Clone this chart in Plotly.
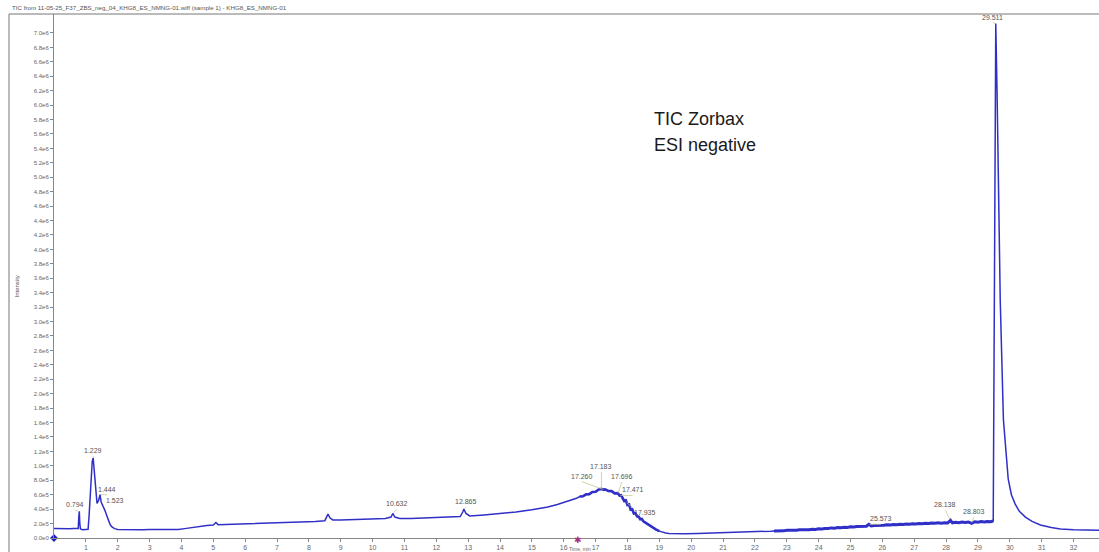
import plotly.graph_objects as go

# Total ion chromatogram, split into retention-time segments (min, counts)
early_time = [
    0.00, 0.10, 0.20, 0.30, 0.40, 0.50, 0.60, 0.70, 0.76, 0.78, 0.794, 0.81, 0.83, 0.90, 1.00,
    1.07, 1.10, 1.15, 1.20, 1.229, 1.26, 1.30, 1.35, 1.40, 1.444, 1.48, 1.523, 1.56, 1.60, 1.65,
    1.70, 1.75, 1.80, 1.90, 2.00, 2.20, 2.50, 2.80, 3.00, 3.30, 3.60, 3.90, 4.10, 4.30, 4.50,
    4.80, 5.00, 5.08, 5.15, 5.40, 5.70, 6.00, 6.30, 6.60, 7.00, 7.40, 7.80, 8.20, 8.50, 8.56,
    8.60, 8.66, 8.75, 9.00, 9.50, 10.00, 10.40, 10.58, 10.632, 10.70, 10.85, 11.20, 11.60, 12.00,
    12.40, 12.75, 12.83, 12.865, 12.93, 13.05, 13.50, 14.00, 14.50, 15.00, 15.50, 15.80, 16.00,
    16.20, 16.40,
]
early_int = [
    1.30e5, 1.28e5, 1.30e5, 1.27e5, 1.29e5, 1.28e5, 1.30e5, 1.29e5, 1.32e5, 3.0e5, 3.7e5, 2.0e5,
    1.25e5, 1.15e5, 1.15e5, 1.20e5, 3.0e5, 7.5e5, 10.6e5, 11.1e5, 9.5e5, 6.5e5, 4.8e5, 5.2e5,
    6.0e5, 5.0e5, 4.6e5, 4.4e5, 3.8e5, 3.2e5, 2.5e5, 2.0e5, 1.6e5, 1.30e5, 1.18e5, 1.15e5,
    1.17e5, 1.16e5, 1.18e5, 1.17e5, 1.20e5, 1.19e5, 1.30e5, 1.45e5, 1.57e5, 1.72e5, 1.80e5,
    2.15e5, 1.85e5, 1.88e5, 1.92e5, 1.96e5, 2.00e5, 2.05e5, 2.10e5, 2.15e5, 2.22e5, 2.30e5,
    2.40e5, 2.90e5, 3.30e5, 2.80e5, 2.50e5, 2.48e5, 2.55e5, 2.62e5, 2.70e5, 2.90e5, 3.40e5,
    2.90e5, 2.72e5, 2.70e5, 2.78e5, 2.85e5, 2.90e5, 2.98e5, 3.60e5, 4.00e5, 3.40e5, 3.05e5,
    3.20e5, 3.38e5, 3.60e5, 3.90e5, 4.30e5, 4.65e5, 4.90e5, 5.20e5, 5.50e5,
]

hump_time = [
    16.50, 16.60, 16.70, 16.80, 16.90, 17.00, 17.10, 17.183, 17.26, 17.30, 17.40, 17.50, 17.60,
    17.696, 17.75, 17.80, 17.90, 17.95, 18.00, 18.05, 18.10, 18.15, 18.20, 18.25, 18.30, 18.35,
    18.40, 18.45, 18.50, 18.60, 18.70, 18.80, 18.90, 19.00,
]
hump_int = [
    5.75e5, 5.78e5, 6.05e5, 6.08e5, 6.38e5, 6.40e5, 6.72e5, 6.80e5, 6.68e5, 6.74e5, 6.52e5,
    6.50e5, 6.18e5, 6.22e5, 5.88e5, 5.92e5, 5.12e5, 5.20e5, 4.58e5, 4.66e5, 3.92e5, 3.98e5,
    3.40e5, 3.44e5, 3.00e5, 2.96e5, 2.60e5, 2.64e5, 2.30e5, 2.00e5, 1.70e5, 1.40e5, 1.15e5,
    0.95e5,
]

valley_time = [19.10, 19.20, 19.30, 19.50, 19.80, 20.20, 20.60, 21.00, 21.50, 22.00, 22.50]
valley_int = [0.80e5, 0.68e5, 0.62e5, 0.58e5, 0.60e5, 0.62e5, 0.66e5, 0.70e5, 0.76e5, 0.84e5,
              0.95e5]

late_time = [
    22.6, 22.7, 22.8, 22.9, 23.0, 23.1, 23.2, 23.3, 23.4, 23.5, 23.6, 23.7, 23.8, 23.9, 24.0,
    24.1, 24.2, 24.3, 24.4, 24.5, 24.6, 24.7, 24.8, 24.9, 25.0, 25.1, 25.2, 25.3, 25.4, 25.5,
    25.573, 25.65, 25.75, 25.85, 25.95, 26.05, 26.15, 26.25, 26.35, 26.45, 26.55, 26.65, 26.75,
    26.85, 26.95, 27.05, 27.15, 27.25, 27.35, 27.45, 27.55, 27.65, 27.75, 27.85, 27.95, 28.05,
    28.138, 28.2, 28.3, 28.4, 28.5, 28.6, 28.7, 28.803, 28.9, 29.0, 29.1, 29.2, 29.3, 29.4, 29.48,
]
late_int = [
    0.98e5, 0.95e5, 1.02e5, 0.99e5, 1.06e5, 1.03e5, 1.08e5, 1.07e5, 1.13e5, 1.10e5, 1.17e5,
    1.14e5, 1.22e5, 1.19e5, 1.28e5, 1.25e5, 1.33e5, 1.31e5, 1.40e5, 1.36e5, 1.45e5, 1.42e5,
    1.50e5, 1.47e5, 1.56e5, 1.52e5, 1.60e5, 1.58e5, 1.66e5, 1.63e5, 1.90e5, 1.68e5, 1.74e5,
    1.72e5, 1.80e5, 1.76e5, 1.84e5, 1.80e5, 1.88e5, 1.84e5, 1.92e5, 1.88e5, 1.95e5, 1.91e5,
    1.98e5, 1.94e5, 2.01e5, 1.97e5, 2.04e5, 2.00e5, 2.07e5, 2.03e5, 2.10e5, 2.05e5, 2.12e5,
    2.08e5, 2.45e5, 2.10e5, 2.18e5, 2.12e5, 2.20e5, 2.15e5, 2.22e5, 2.02e5, 2.25e5, 2.18e5,
    2.27e5, 2.22e5, 2.30e5, 2.25e5, 2.35e5,
]

main_peak_time = [
    29.52, 29.56, 29.60, 29.65, 29.70, 29.80, 29.90, 29.95, 30.05, 30.17, 30.30, 30.49, 30.70,
    30.96, 31.30, 31.59, 32.00, 32.40, 32.80,
]
main_peak_int = [
    40.0e5, 71.3e5, 62.0e5, 45.0e5, 33.0e5, 16.4e5, 10.0e5, 8.2e5, 6.0e5, 4.7e5, 3.7e5, 2.9e5,
    2.3e5, 1.8e5, 1.45e5, 1.25e5, 1.15e5, 1.10e5, 1.08e5,
]

time_min = early_time + hump_time + valley_time + late_time + main_peak_time
intensity = early_int + hump_int + valley_int + late_int + main_peak_int

# Labelled peaks: label text, anchor time, anchor intensity, label offset (px)
peak_labels = ["0.794", "1.229", "1.444", "1.523", "10.632", "12.865", "17.183", "17.260",
               "17.696", "17.471", "17.935", "25.573", "28.138", "28.803", "29.511"]
peak_times = [0.794, 1.229, 1.444, 1.523, 10.632, 12.865, 17.183, 17.26,
              17.696, 17.75, 17.95, 25.573, 28.138, 28.803, 29.56]
peak_heights = [3.7e5, 11.1e5, 6.0e5, 4.6e5, 3.4e5, 4.0e5, 6.8e5, 6.7e5,
                6.1e5, 5.9e5, 5.0e5, 1.90e5, 2.45e5, 2.02e5, 71.3e5]
label_dx = [-4, 0, 7, 12, 4, 2, 0, -22, 4, 13, 19, 12, -5, 2, -3]
label_dy = [-1, -2, 0, 1, -4, -2, -17, -8, -12, 0, 16, 0, -10, -6, -1]

# Intensity axis ticks every 2.0e5
y_ticks = [i * 2.0e5 for i in range(36)]


def tick_text(v):
    if v == 0:
        return "0.0e0"
    if v < 1e6:
        return f"{v / 1e5:.1f}e5"
    return f"{v / 1e6:.1f}e6"


y_tick_labels = [tick_text(v) for v in y_ticks]
x_ticks = list(range(1, 33))

header = "TIC from 11-05-25_F37_ZBS_neg_04_KHG8_ES_NMNG-01.wiff (sample 1) - KHG8_ES_NMNG-01"
cursor_time = 16.45

W, H = 1099, 552
ML, MT, MB = 54, 14, 14
plot_w = W - ML
plot_h = H - MT - MB
y_max = 7.263e6
line_blue = "#3030c8"

fig = go.Figure()
fig.add_trace(go.Scatter(
    x=time_min, y=intensity, mode="lines",
    line=dict(color=line_blue, width=1.5),
    hoverinfo="x+y", showlegend=False,
))
# the noisier stretches of the trace are drawn heavier
fig.add_trace(go.Scatter(
    x=hump_time, y=hump_int, mode="lines",
    line=dict(color=line_blue, width=2.6),
    hoverinfo="skip", showlegend=False,
))
fig.add_trace(go.Scatter(
    x=late_time, y=late_int, mode="lines",
    line=dict(color=line_blue, width=3.0),
    hoverinfo="skip", showlegend=False,
))

# origin marker
fig.add_trace(go.Scatter(
    x=[0], y=[0], mode="markers",
    marker=dict(symbol="diamond", size=6, color="#2020c0"),
    cliponaxis=False, showlegend=False, hoverinfo="skip",
))

for txt, t, h, dx, dy in zip(peak_labels, peak_times, peak_heights, label_dx, label_dy):
    fig.add_annotation(
        x=t, y=h, xref="x", yref="y", text=txt,
        showarrow=True, arrowhead=0, arrowwidth=0.8, arrowcolor="#c8c890",
        ax=dx, ay=dy, standoff=1,
        font=dict(family="Liberation Sans", size=7, color="#555555"),
        yanchor="bottom",
    )

# cursor mark on the time axis
fig.add_annotation(
    x=cursor_time, y=0, xref="x", yref="y", text="✱", showarrow=False,
    yshift=-2, font=dict(family="DejaVu Sans", size=9, color="#a8307c"),
)

fig.add_annotation(
    x=(652 - ML) / plot_w, y=0.80, xref="paper", yref="paper",
    text="TIC Zorbax", showarrow=False, xanchor="left", yanchor="middle",
    font=dict(family="Liberation Sans", size=18, color="#1a1a1a"),
)
fig.add_annotation(
    x=(652 - ML) / plot_w, y=0.75, xref="paper", yref="paper",
    text="ESI negative", showarrow=False, xanchor="left", yanchor="middle",
    font=dict(family="Liberation Sans", size=18, color="#1a1a1a"),
)
fig.add_annotation(
    x=(10 - ML) / plot_w, y=1 + 7 / plot_h, xref="paper", yref="paper",
    text=header, showarrow=False, xanchor="left", yanchor="middle",
    font=dict(family="Liberation Sans", size=6.2, color="#555555"),
)
fig.add_annotation(
    x=(12 - ML) / plot_w, y=0.48, xref="paper", yref="paper",
    text="Intensity", textangle=-90, showarrow=False,
    font=dict(family="Liberation Sans", size=6, color="#555555"),
)
# time-axis title along the bottom edge of the page
fig.add_annotation(
    x=(580 - ML) / plot_w, y=-(549 - (H - MB)) / plot_h, xref="paper", yref="paper",
    text="Time, min", showarrow=False, xanchor="center", yanchor="middle",
    font=dict(family="Liberation Sans", size=5, color="#666666"),
)

# outer frame: top rule and left rule
fig.add_shape(type="line", xref="paper", yref="paper",
              x0=(9 - ML) / plot_w, x1=1, y0=1, y1=1,
              line=dict(color="#777777", width=1))
fig.add_shape(type="line", xref="paper", yref="paper",
              x0=(9 - ML) / plot_w, x1=(9 - ML) / plot_w, y0=1, y1=-MB / plot_h,
              line=dict(color="#777777", width=1))

fig.update_layout(
    width=W, height=H,
    margin=dict(l=ML, r=0, t=MT, b=MB),
    paper_bgcolor="white", plot_bgcolor="white",
    xaxis=dict(
        range=[0, 32.8], tickvals=x_ticks, ticktext=[str(v) for v in x_ticks],
        ticks="outside", ticklen=3, tickcolor="#888888",
        tickfont=dict(family="Liberation Sans", size=7, color="#666666"),
        showline=True, linecolor="#888888", linewidth=1,
        showgrid=False, zeroline=False, automargin=False,
    ),
    yaxis=dict(
        range=[0, y_max], tickvals=y_ticks, ticktext=y_tick_labels,
        ticks="outside", ticklen=3, tickcolor="#888888",
        tickfont=dict(family="Liberation Sans", size=6, color="#666666"),
        showline=True, linecolor="#888888", linewidth=1,
        showgrid=False, zeroline=False, automargin=False,
    ),
)

fig.write_html("out.html")
